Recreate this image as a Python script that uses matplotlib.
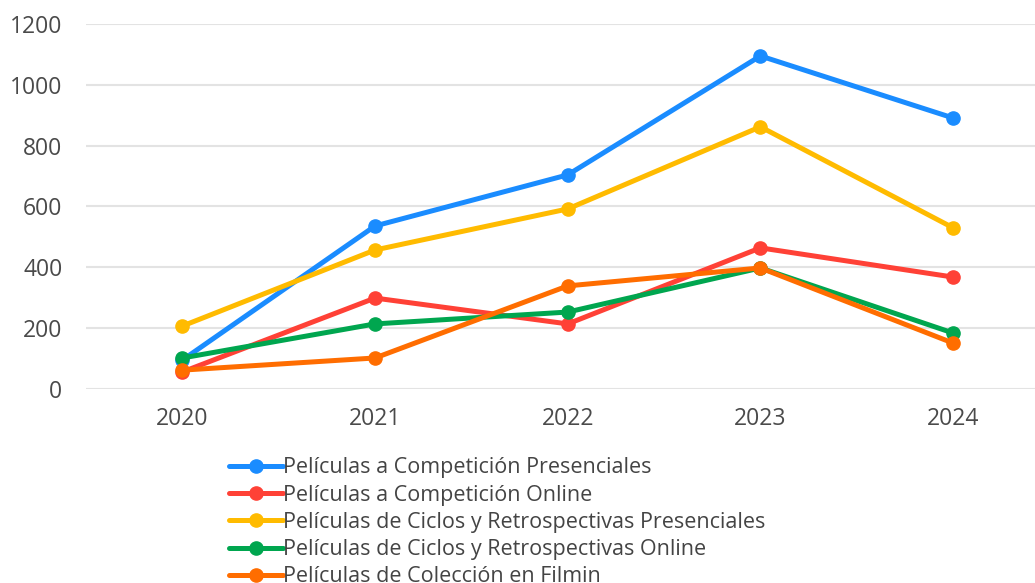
import matplotlib
matplotlib.use("Agg")
import matplotlib.pyplot as plt

years = ["2020", "2021", "2022", "2023", "2024"]

comp_presencial = [95, 536, 704, 1095, 891]
comp_online = [56, 299, 214, 464, 368]
ciclos_presencial = [207, 457, 592, 862, 530]
ciclos_online = [102, 214, 253, 398, 184]
coleccion_filmin = [62, 102, 339, 398, 151]

series = [
    ("Películas a Competición Presenciales", comp_presencial, "#1a8cff"),
    ("Películas a Competición Online", comp_online, "#ff4136"),
    ("Películas de Ciclos y Retrospectivas Presenciales", ciclos_presencial, "#ffbb00"),
    ("Películas de Ciclos y Retrospectivas Online", ciclos_online, "#00a64f"),
    ("Películas de Colección en Filmin", coleccion_filmin, "#ff6d00"),
]

plt.rcParams["font.family"] = ["Open Sans", "DejaVu Sans"]

fig = plt.figure(figsize=(10.35, 5.83), dpi=100)
ax = fig.add_axes([86 / 1035, 1 - 389 / 583, 1 - 86 / 1035, (389 - 24) / 583])

x = list(range(len(years)))
for label, vals, color in series:
    ax.plot(x, vals, color=color, lw=3.6, marker="o", ms=9.5,
            label=label, clip_on=False, solid_capstyle="round")

ax.set_xlim(-0.5, 4.425)
ax.set_ylim(0, 1200)
ax.set_yticks(range(0, 1201, 200))
ax.set_xticks(x)
ax.set_xticklabels(years)
ax.grid(axis="y", color="#e3e3e3", lw=1.5)
ax.set_axisbelow(True)
for s in ax.spines.values():
    s.set_visible(False)
ax.tick_params(length=0, labelsize=16.5, labelcolor="#4a4a4a")
ax.tick_params(axis="y", pad=17)
ax.tick_params(axis="x", pad=13)

fig.legend(loc="upper left", bbox_to_anchor=(0.211, 0.234), frameon=False,
           fontsize=15.5, labelcolor="#444444", handlelength=2.5,
           handletextpad=0.0, labelspacing=0.29, borderpad=0)

fig.savefig("out.png", dpi=100)
